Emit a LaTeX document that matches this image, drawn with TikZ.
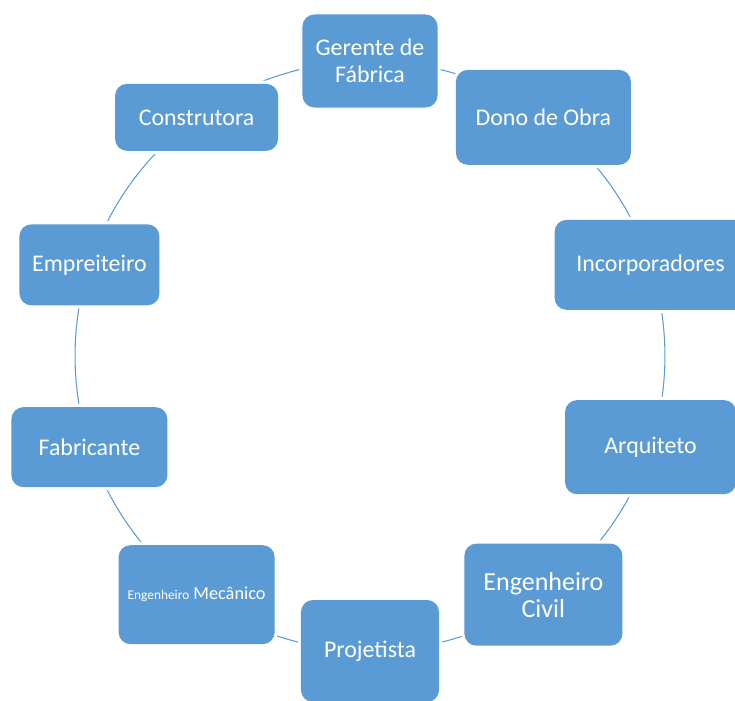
\documentclass[tikz,border=0pt]{standalone}
\usepackage{fontspec}
\setmainfont{Carlito}
\usepackage{tikz}
\usetikzlibrary{positioning,backgrounds}
\definecolor{roleblue}{HTML}{5B9BD5}

\begin{document}
\begin{tikzpicture}[x=0.025cm, y=0.025cm,
  role/.style={fill=roleblue, preaction={draw=white, line width=4.5pt}, text=white, rounded corners=0.3cm, align=center, font=\fontsize{17}{19.2}\selectfont},
  link/.style={draw=roleblue, line width=0.75pt, bend left=18, looseness=0.873}]
\useasboundingbox (-370,356) rectangle (365,-344);
\node[role, minimum width=3.375cm, minimum height=2.325cm] (gerente) at (90:295) {Gerente de\\Fábrica};
\node[role, minimum width=4.375cm, minimum height=2.375cm] (dono) at (54:295) {Dono de Obra};
\node[role, minimum width=4.8cm, minimum height=2.25cm] (incorp) at (18:295) {Incorporadores};
\node[role, minimum width=4.275cm, minimum height=2.35cm] (arquiteto) at (-18:295) {Arquiteto};
\node[role, minimum width=3.95cm, minimum height=2.55cm, font=\fontsize{18.5}{19.2}\selectfont] (civil) at (-54:295) {Engenheiro\\Civil};
\node[role, minimum width=3.45cm, minimum height=2.55cm] (projetista) at (-90:295) {Projetista};
\node[role, minimum width=3.9cm, minimum height=2.475cm, font=\fontsize{13}{15}\selectfont] (mecanico) at (-126:295) {{\fontsize{9.5}{11}\selectfont Engenheiro} Mecânico};
\node[role, minimum width=3.9cm, minimum height=2.0cm] (fabricante) at (-162:295) {Fabricante};
\node[role, minimum width=3.5cm, minimum height=2.025cm] (empreiteiro) at (162:295) {Empreiteiro};
\node[role, minimum width=4.075cm, minimum height=1.675cm] (construtora) at (126:295) {Construtora};
\begin{pgfonlayer}{background}
\draw[link] (gerente.center) to (dono.center);
\draw[link] (dono.center) to (incorp.center);
\draw[link] (incorp.center) to (arquiteto.center);
\draw[link] (arquiteto.center) to (civil.center);
\draw[link] (civil.center) to (projetista.center);
\draw[link] (projetista.center) to (mecanico.center);
\draw[link] (mecanico.center) to (fabricante.center);
\draw[link] (fabricante.center) to (empreiteiro.center);
\draw[link] (empreiteiro.center) to (construtora.center);
\draw[link] (construtora.center) to (gerente.center);
\end{pgfonlayer}
\end{tikzpicture}
\end{document}
